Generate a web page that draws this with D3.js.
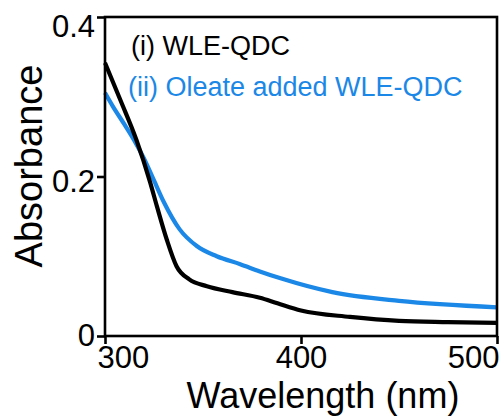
<!DOCTYPE html>
<html>
<head>
<meta charset="utf-8">
<script src="https://cdn.jsdelivr.net/npm/d3@7"></script>
<style>
  body { margin: 0; background: #fff; }
  text { font-family: "Liberation Sans", Arial, sans-serif; }
</style>
</head>
<body>
<script>
// wavelength (nm) / absorbance
var wlBlack = [300, 308, 316, 323, 326.5, 331.5, 336.5, 343, 352, 365, 379, 388, 400, 425, 450, 475, 500];
var absBlack = [0.3425, 0.295, 0.246, 0.193, 0.1625, 0.121, 0.0875, 0.071, 0.0625, 0.055, 0.048, 0.041, 0.032, 0.024, 0.019, 0.0175, 0.0165];

var wlBlue = [300, 304, 310, 315, 320, 325, 330, 338, 347, 357, 369, 379, 390, 416, 450, 500];
var absBlue = [0.305, 0.288, 0.265, 0.245, 0.222, 0.195, 0.168, 0.134, 0.1125, 0.100, 0.090, 0.081, 0.072, 0.055, 0.044, 0.036];

var seriesNames = ["(i) WLE-QDC", "(ii) Oleate added WLE-QDC"];
var seriesColors = ["#000000", "#1b87e6"];

var xTicks = [300, 400, 500];
var yTicks = [0, 0.2, 0.4];
var yTickLabels = ["0", "0.2", "0.4"];

var width = 504,
  height = 419;
var margin = { left: 105, right: 7, top: 17, bottom: 83 };

var x = d3.scaleLinear().domain([300, 500]).range([margin.left, width - margin.right]);
var y = d3.scaleLinear().domain([0, 0.4]).range([height - margin.bottom, margin.top]);

var svg = d3
  .select("body")
  .append("svg")
  .attr("width", width)
  .attr("height", height);

var line = d3
  .line()
  .x(function(d) { return x(d[0]); })
  .y(function(d) { return y(d[1]); })
  .curve(d3.curveMonotoneX);

var series = [d3.zip(wlBlack, absBlack), d3.zip(wlBlue, absBlue)];

// blue drawn first so black sits on top like in the picture
svg
  .selectAll("path.curve")
  .data([1, 0])
  .enter()
  .append("path")
  .attr("class", "curve")
  .attr("d", function(i) { return line(series[i]); })
  .attr("fill", "none")
  .attr("stroke", function(i) { return seriesColors[i]; })
  .attr("stroke-width", 4.2)
  .attr("stroke-linejoin", "round");

// frame
svg
  .append("rect")
  .attr("x", x(300))
  .attr("y", y(0.4))
  .attr("width", x(500) - x(300))
  .attr("height", y(0) - y(0.4))
  .attr("fill", "none")
  .attr("stroke", "#000")
  .attr("stroke-width", 2.6);

// y axis
var yAxis = svg
  .append("g")
  .attr("transform", "translate(" + x(300) + ",0)")
  .call(
    d3.axisLeft(y)
      .tickValues(yTicks)
      .tickFormat(function(d, i) { return yTickLabels[i]; })
      .tickSize(8)
      .tickPadding(2)
  );
yAxis.select(".domain").remove();
yAxis.selectAll(".tick line").attr("stroke-width", 2.6);
yAxis
  .selectAll(".tick text")
  .attr("font-size", 31)
  .attr("fill", "#000")
  .attr("dy", function(d) { return d === 0.4 ? "0.62em" : d === 0.2 ? "0.48em" : "0.32em"; });

// x axis
var xAxis = svg
  .append("g")
  .attr("transform", "translate(0," + y(0) + ")")
  .call(d3.axisBottom(x).tickValues(xTicks).tickSize(8).tickPadding(0));
xAxis.select(".domain").remove();
xAxis.selectAll(".tick line").attr("stroke-width", 2.6);
xAxis
  .selectAll(".tick text")
  .attr("font-size", 31)
  .attr("fill", "#000")
  .attr("dy", "0.78em")
  .attr("text-anchor", function(d) { return d === 300 ? "start" : d === 500 ? "end" : "middle"; })
  .attr("dx", function(d) { return d === 300 ? -8 : d === 500 ? 2 : 0; });

// axis titles
svg
  .append("text")
  .attr("x", 323)
  .attr("y", 408)
  .attr("text-anchor", "middle")
  .attr("font-size", 36)
  .text("Wavelength (nm)");

svg
  .append("text")
  .attr("transform", "translate(42,166) rotate(-90)")
  .attr("text-anchor", "middle")
  .attr("font-size", 38)
  .text("Absorbance");

// legend
svg
  .selectAll("text.legend")
  .data(seriesNames)
  .enter()
  .append("text")
  .attr("class", "legend")
  .attr("x", function(d, i) { return i === 0 ? 131 : 128; })
  .attr("y", function(d, i) { return 55 + i * 41; })
  .attr("font-size", 27)
  .attr("fill", function(d, i) { return seriesColors[i]; })
  .text(function(d) { return d; });
</script>
</body>
</html>
